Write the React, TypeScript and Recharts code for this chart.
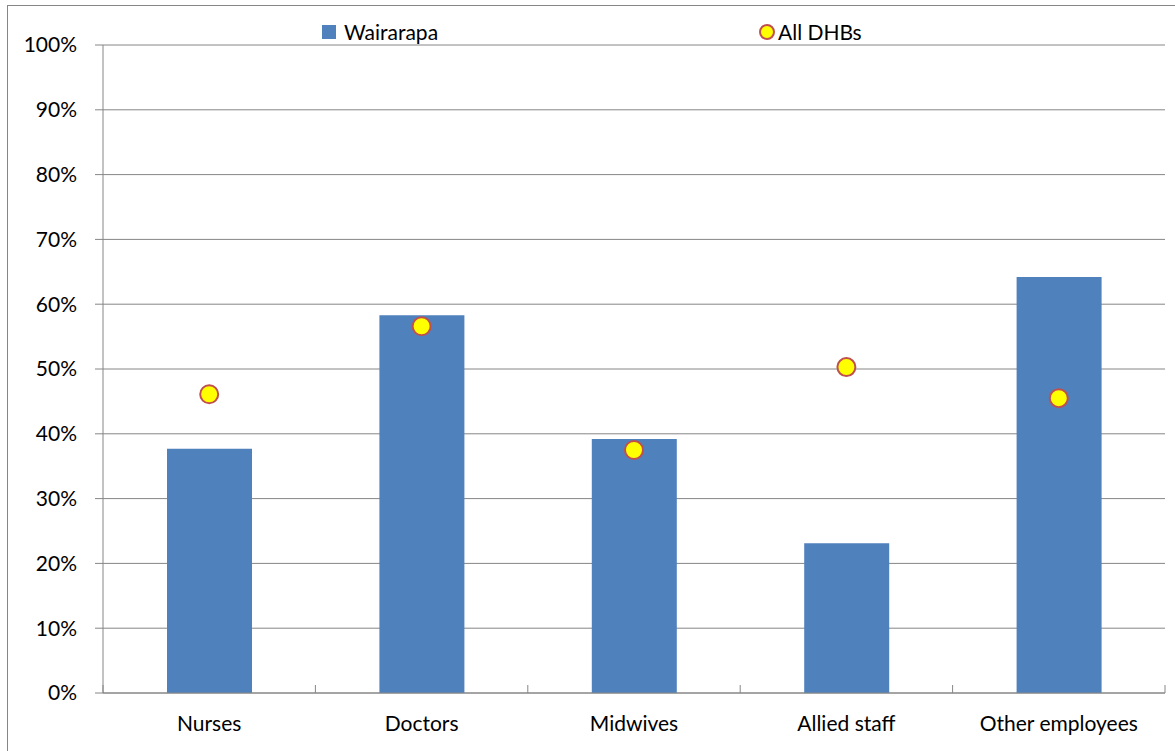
import React from 'react';
import {
  ComposedChart, Bar, Line, XAxis, YAxis, CartesianGrid,
} from 'recharts';

const categories = ['Nurses', 'Doctors', 'Midwives', 'Allied staff', 'Other employees'];
const wairarapa = [37.7, 58.3, 39.2, 23.1, 64.2];
const allDhbs = [46.1, 56.6, 37.5, 50.3, 45.5];
const yTicks = [0, 10, 20, 30, 40, 50, 60, 70, 80, 90, 100];

const data = categories.map((name, i) => ({
  name,
  wairarapa: wairarapa[i],
  allDhbs: allDhbs[i],
}));

const FONT = 'Lato, "Open Sans", sans-serif';
const GREY = '#868686';
const BAR = '#4F81BD';

// category label plus tick marks on the category boundaries
const CategoryTick = (props: any) => {
  const { x, y, payload, index } = props;
  const half = payload.offset || 0;
  return (
    <g>
      <line x1={x - half} x2={x - half} y1={y - 16} y2={y - 8} stroke={GREY} />
      {index === categories.length - 1 && (
        <line x1={x + half} x2={x + half} y1={y - 16} y2={y - 8} stroke={GREY} />
      )}
      <text x={x} y={y + 13} textAnchor="middle" dominantBaseline="hanging"
        fontSize={21} fontFamily={FONT} fill="#000">
        {payload.value}
      </text>
    </g>
  );
};

const Dot = (props: any) => {
  const { cx, cy } = props;
  if (cx == null || cy == null) return null;
  return <circle cx={cx} cy={cy} r={9} fill="#FFFF00" stroke="#C0504D" strokeWidth={2} />;
};

export default function App() {
  return (
    <div style={{ position: 'fixed', left: 0, top: 0, width: 1175, height: 751, background: '#fff', fontFamily: FONT }}>
      <div style={{ position: 'absolute', left: 7, top: 5, width: 1175, height: 750, border: `1.5px solid ${GREY}`, boxSizing: 'border-box' }} />
      <ComposedChart width={1175} height={751} data={data}
        margin={{ top: 45, right: 10, bottom: 8, left: 7 }}>
        <CartesianGrid vertical={false} stroke={GREY} strokeWidth={1} />
        <XAxis dataKey="name" height={50} axisLine={{ stroke: GREY }} tickLine={false}
          tick={<CategoryTick />} interval={0} />
        <YAxis width={96} domain={[0, 100]} ticks={yTicks} interval={0}
          tickFormatter={(v: number) => `${v}%`} axisLine={{ stroke: GREY }}
          tickLine={{ stroke: GREY }} tickSize={8} tickMargin={18}
          tick={{ fontSize: 21, fontFamily: FONT, fill: '#000' }} />
        <Bar dataKey="wairarapa" fill={BAR} barSize={85} isAnimationActive={false} />
        <Line dataKey="allDhbs" stroke="none" dot={<Dot />} activeDot={false} isAnimationActive={false} />
      </ComposedChart>
      <div style={{ position: 'absolute', left: 322, top: 19, display: 'flex', alignItems: 'center', fontSize: 21 }}>
        <span style={{ width: 14, height: 14, background: BAR, display: 'inline-block', marginRight: 8 }} />
        <span>Wairarapa</span>
      </div>
      <div style={{ position: 'absolute', left: 759, top: 19, display: 'flex', alignItems: 'center', fontSize: 21 }}>
        <span style={{ width: 16, height: 16, borderRadius: '50%', background: '#FFFF00', border: '2px solid #C0504D', boxSizing: 'border-box', display: 'inline-block', marginRight: 3 }} />
        <span>All DHBs</span>
      </div>
    </div>
  );
}
